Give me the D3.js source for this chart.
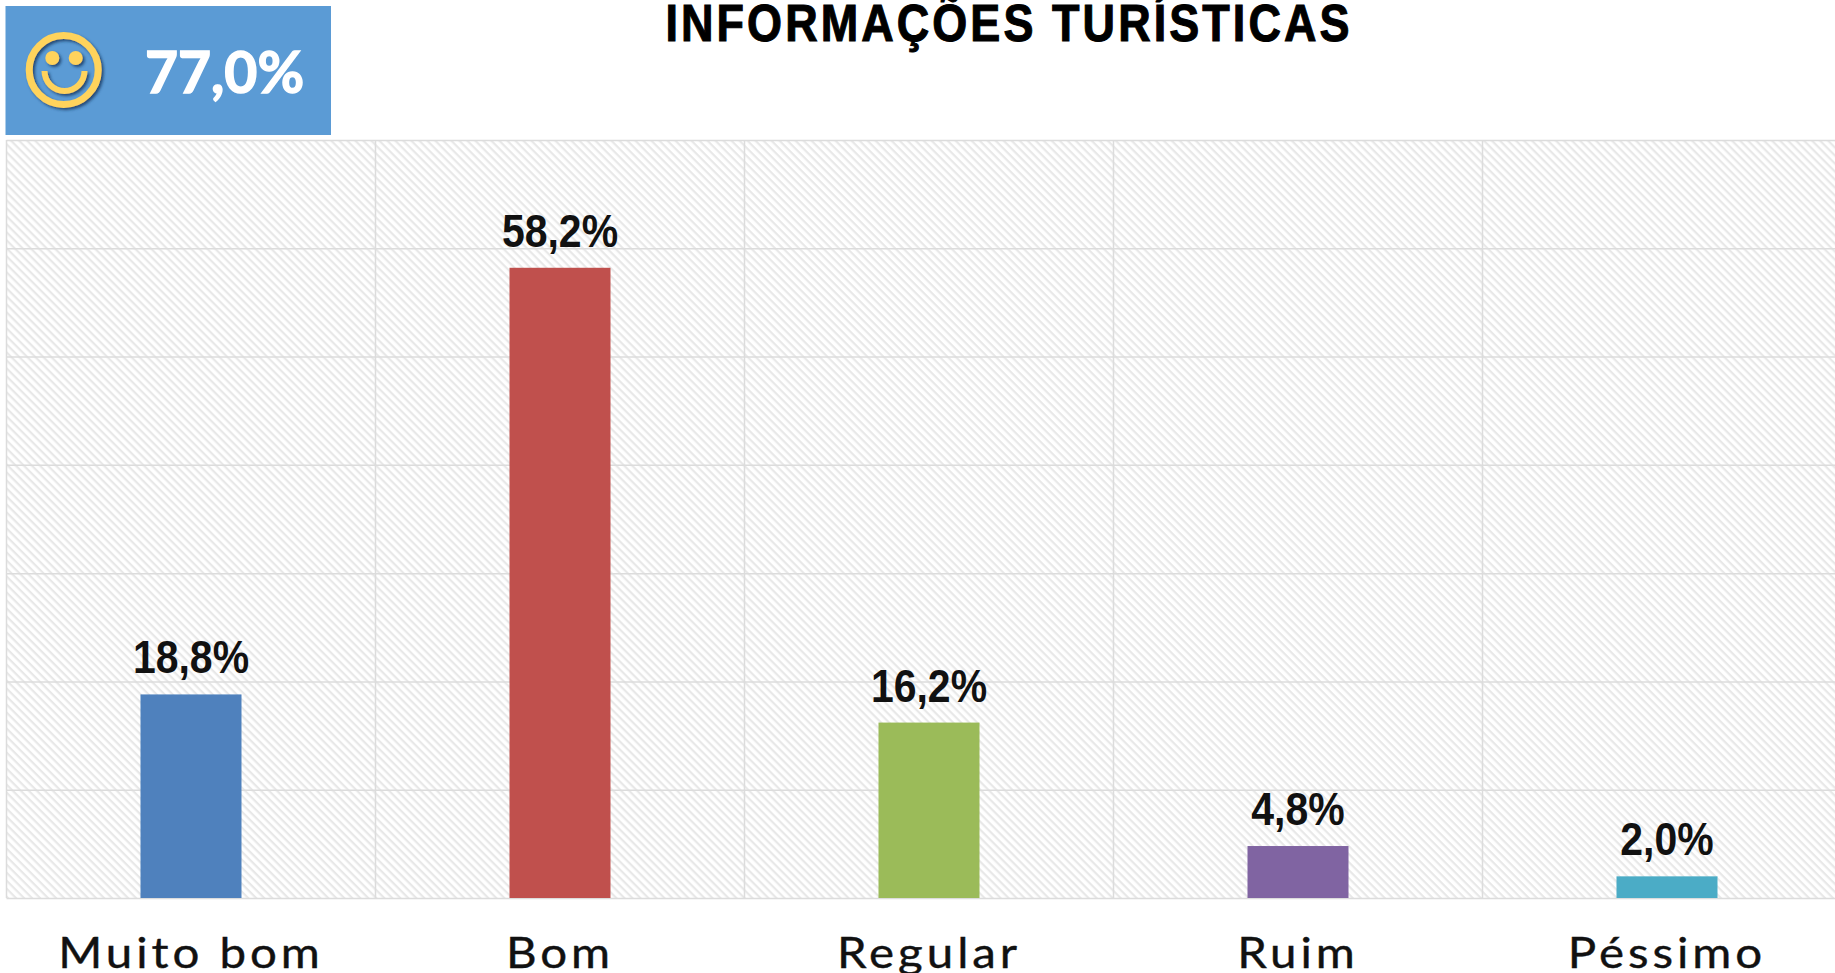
<!DOCTYPE html>
<html><head><meta charset="utf-8">
<script src="https://cdn.jsdelivr.net/npm/d3@7"></script>
<style>
html,body{margin:0;padding:0;background:#fff;overflow:hidden}
svg{display:block}
.grid line{stroke:#dcdcdc;stroke-width:1.5}
.grid path{display:none}
.xlab text{font-family:Lato;font-size:42px;fill:#111;letter-spacing:3.5px;stroke:#111;stroke-width:.4px}
.xlab line,.xlab path{display:none}
</style></head><body>
<script>
const categories=["Muito bom","Bom","Regular","Ruim","Péssimo"];
const values=[18.8,58.2,16.2,4.8,2.0];
const valueLabels=["18,8%","58,2%","16,2%","4,8%","2,0%"];
const colors=["#4f81bd","#c0504d","#9bbb59","#8064a2","#4bacc6"];
const yTicks=[0,10,20,30,40,50,60,70];
const chartTitle="INFORMAÇÕES TURÍSTICAS";
const badgeText="77,0%";

const W=1835,H=973,plotL=6.5,plotR=1851.5,plotT=140,plotB=898;
const svg=d3.select("body").append("svg").attr("width",W).attr("height",H);
const defs=svg.append("defs");
const pat=defs.append("pattern").attr("id","hatch").attr("patternUnits","userSpaceOnUse")
  .attr("width",5.66).attr("height",5.66).attr("patternTransform","rotate(45)");
pat.append("rect").attr("width",5.66).attr("height",5.66).attr("fill","#fff");
pat.append("rect").attr("width",5.66).attr("height",2.2).attr("fill","#e8e8e8");
const f=defs.append("filter").attr("id","sh").attr("x","-20%").attr("y","-20%").attr("width","150%").attr("height","150%");
f.append("feDropShadow").attr("dx",2).attr("dy",2).attr("stdDeviation",1.5).attr("flood-color","#173a63").attr("flood-opacity",0.85);

const x=d3.scaleBand().domain(categories).range([plotL,plotR]).paddingInner(0).paddingOuter(0);
const y=d3.scaleLinear().domain([0,70]).range([plotB,plotT]);
const barW=101;

svg.append("rect").attr("x",plotL).attr("y",plotT).attr("width",W-plotL).attr("height",plotB-plotT).attr("fill","url(#hatch)");

svg.append("g").attr("class","grid").attr("transform",`translate(${plotL},0)`)
  .call(d3.axisLeft(y).tickValues(yTicks).tickSize(-(plotR-plotL)).tickFormat(""));
svg.append("g").attr("class","grid").selectAll("line").data(d3.range(0,categories.length)).join("line")
  .attr("x1",i=>plotL+i*x.bandwidth()).attr("x2",i=>plotL+i*x.bandwidth()).attr("y1",plotT).attr("y2",plotB);

const cx=c=>x(c)+x.bandwidth()/2;
svg.selectAll(".bar").data(categories).join("rect").attr("class","bar")
  .attr("x",c=>cx(c)-barW/2).attr("width",barW)
  .attr("y",(c,i)=>y(values[i])).attr("height",(c,i)=>y(0)-y(values[i]))
  .attr("fill",(c,i)=>colors[i]);

svg.selectAll(".val").data(categories).join("text").attr("class","val")
  .attr("transform",(c,i)=>`translate(${cx(c)},${y(values[i])-21}) scale(1,1.12)`)
  .attr("text-anchor","middle").attr("font-family","Liberation Sans").attr("font-weight",700)
  .attr("font-size",41).attr("fill","#111").text((c,i)=>valueLabels[i]);

const ax=svg.append("g").attr("class","xlab").attr("transform",`translate(0,${plotB})`)
  .call(d3.axisBottom(x).tickSize(0).tickPadding(0));
ax.selectAll("text").attr("dy",0).attr("y",0).attr("transform","translate(0,70) scale(1.13,1)");

svg.append("text").attr("transform","translate(1009,41) scale(0.9,1.02)").attr("text-anchor","middle")
  .attr("font-family","Liberation Sans").attr("font-weight",700).attr("font-size",50)
  .attr("letter-spacing",3.4).attr("fill","#000").attr("stroke","#000").attr("stroke-width",1).text(chartTitle);

svg.append("rect").attr("x",5.5).attr("y",6).attr("width",325.5).attr("height",129).attr("fill","#5b9bd5");
const s=svg.append("g").attr("filter","url(#sh)").attr("fill","none").attr("stroke","#ffd35c");
s.append("circle").attr("cx",63.7).attr("cy",70).attr("r",34.5).attr("stroke-width",7);
s.append("circle").attr("cx",52.3).attr("cy",58).attr("r",7).attr("fill","#ffd35c").attr("stroke","none");
s.append("circle").attr("cx",75.7).attr("cy",58).attr("r",7).attr("fill","#ffd35c").attr("stroke","none");
s.append("path").attr("d",d3.arc()({innerRadius:17,outerRadius:23,startAngle:Math.PI/2,endAngle:Math.PI*1.5})).attr("transform","translate(64.5,71)").attr("fill","#ffd35c").attr("stroke","none");
svg.append("text").attr("x",224.5).attr("y",93).attr("text-anchor","middle")
  .attr("font-family","Lato").attr("font-weight",700).attr("font-size",57).attr("fill","#fff").attr("stroke","#fff").attr("stroke-width",1.4).text(badgeText);
</script></body></html>
